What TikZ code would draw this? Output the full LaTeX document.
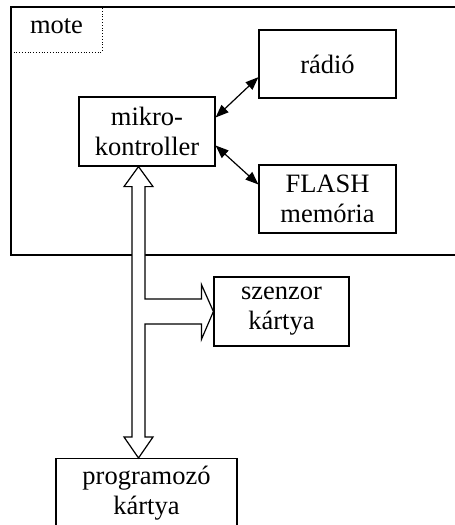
\documentclass[tikz,border=0pt]{standalone}
\usepackage{fontspec}
\setmainfont{Liberation Serif}
\usetikzlibrary{arrows.meta,calc}

\tikzset{
  lbl/.style={font=\fontsize{26.5}{30}\selectfont, align=center, inner sep=0pt},
  unit/.style={draw, line width=1.2pt, lbl},
  link/.style={line width=1.2pt, {Triangle[length=13pt,width=10pt]}-{Triangle[length=13pt,width=10pt]}},
  bus/.style={draw, fill=white, line width=1.2pt, line join=miter}
}

\begin{document}
\begin{tikzpicture}[x=1pt, y=-1pt]
  \useasboundingbox (0,0) rectangle (455,525);
  \clip (0,0) rectangle (455,525);

  % mote enclosure and its label tab
  \draw[line width=1.2pt] (11,7) rectangle (480,255);
  \draw[dotted, line width=0.8pt] (11,7) rectangle (102,52);
  \node[lbl, anchor=base] (mote) at (56.5,33) {mote};

  % units
  \node[unit, minimum width=136pt, minimum height=69pt] (mk) at (147,131.5) {mikro-\\kontroller};
  \node[unit, minimum width=137pt, minimum height=68pt] (radio) at (327.5,64) {rádió};
  \node[unit, minimum width=137pt, minimum height=68pt] (flash) at (327.5,199) {FLASH\\memória};
  \node[unit, minimum width=135pt, minimum height=69pt] (sz) at (281.5,311.5) {szenzor\\kártya};
  \node[unit, minimum width=181pt, minimum height=70pt, anchor=north] (prog) at (146.5,458) {programozó\\kártya};

  % bidirectional links inside the mote
  \draw[link] ($(mk.north east)!0.3!(mk.south east)$) -- ($(radio.north west)!0.69!(radio.south west)$);
  \draw[link] ($(mk.north east)!0.7!(mk.south east)$) -- ($(flash.north west)!0.29!(flash.south west)$);

  % hollow bus arrow: microcontroller <-> programmer, branch to sensor board
  \coordinate (atop) at ($(mk.south)+(-8.5,0)$);
  \coordinate (abot) at (atop |- prog.north);
  \coordinate (sR) at ($(atop)+(6.5,0)$);
  \coordinate (bU) at ($(sz.west)+(-12,-12.5)$);
  \coordinate (bD) at ($(sz.west)+(-12,12.5)$);
  \path[bus]
    (atop)
    -- ($(atop)+(14.5,20)$)
    -- ($(atop)+(6.5,20)$)
    -- (sR |- bU)
    -- (bU)
    -- ($(sz.west)+(-12,-27)$)
    -- (sz.west)
    -- ($(sz.west)+(-12,28)$)
    -- (bD)
    -- (sR |- bD)
    -- ($(abot)+(6.5,-21)$)
    -- ($(abot)+(14.5,-21)$)
    -- (abot)
    -- ($(abot)+(-14.5,-21)$)
    -- ($(abot)+(-6.5,-21)$)
    -- ($(atop)+(-6.5,20)$)
    -- ($(atop)+(-14.5,20)$)
    -- cycle;
\end{tikzpicture}
\end{document}
